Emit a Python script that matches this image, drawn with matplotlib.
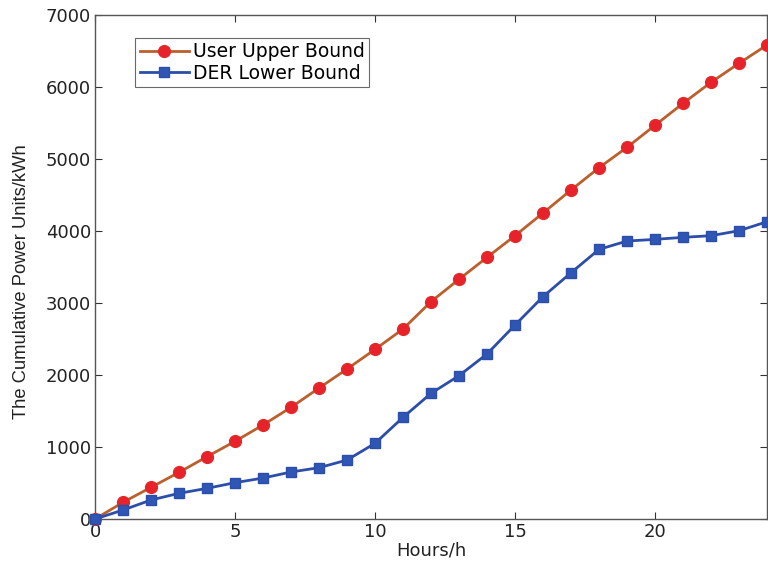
import matplotlib
matplotlib.use("Agg")
from matplotlib import pyplot as plt

# Hours of the day
hours = list(range(25))

# Cumulative power units (kWh)
user_upper = [0, 232, 440, 648, 866, 1079, 1306, 1551, 1819, 2083,
              2356, 2639, 3019, 3329, 3634, 3935, 4250, 4569, 4879, 5162,
              5468, 5773, 6065, 6329, 6583]
der_lower = [0, 125, 264, 357, 426, 505, 569, 653, 713, 819,
             1051, 1412, 1745, 1991, 2292, 2694, 3088, 3420, 3745, 3861,
             3884, 3912, 3935, 4004, 4129]

plt.rcParams['font.family'] = ['DejaVu Sans']

fig = plt.figure(figsize=(7.68, 5.73), dpi=100)
ax = fig.add_axes([0.1237, 0.0942, 0.875, 0.8796])

ax.plot(hours, user_upper, color='#bb5f2c', linewidth=2, marker='o',
        markersize=8.5, markerfacecolor='#e8222a', markeredgecolor='#e02a2a',
        label='User Upper Bound', clip_on=False, zorder=3)
ax.plot(hours, der_lower, color='#2c4ea8', linewidth=2, marker='s',
        markersize=7.5, markerfacecolor='#2f55b5', markeredgecolor='#2c4ea8',
        label='DER Lower Bound', clip_on=False, zorder=3)

ax.set_xlim(0, 24)
ax.set_ylim(0, 7000)
ax.set_xticks([0, 5, 10, 15, 20])
ax.set_yticks(range(0, 7001, 1000))
ax.tick_params(direction='in', top=True, right=True, labelsize=13,
               length=5, width=0.8, colors='#333333', labelcolor='#222222',
               pad=3)
for s in ax.spines.values():
    s.set_color('#555555')
    s.set_linewidth(1.0)

ax.set_xlabel('Hours/h', fontsize=13, color='#222222', labelpad=0)
ax.set_ylabel('The Cumulative Power Units/kWh', fontsize=13.2,
              color='#222222', family='Liberation Sans')
ax.yaxis.set_label_coords(-0.097, 0.472)

leg = ax.legend(loc='upper left', bbox_to_anchor=(0.06, 0.955),
                fontsize=13.5, frameon=True, fancybox=False,
                edgecolor='#444444', borderpad=0.25, handlelength=2.6,
                handletextpad=0.2, labelspacing=0.12, borderaxespad=0)
leg.get_frame().set_linewidth(0.8)

fig.savefig('out.png', dpi=100)
